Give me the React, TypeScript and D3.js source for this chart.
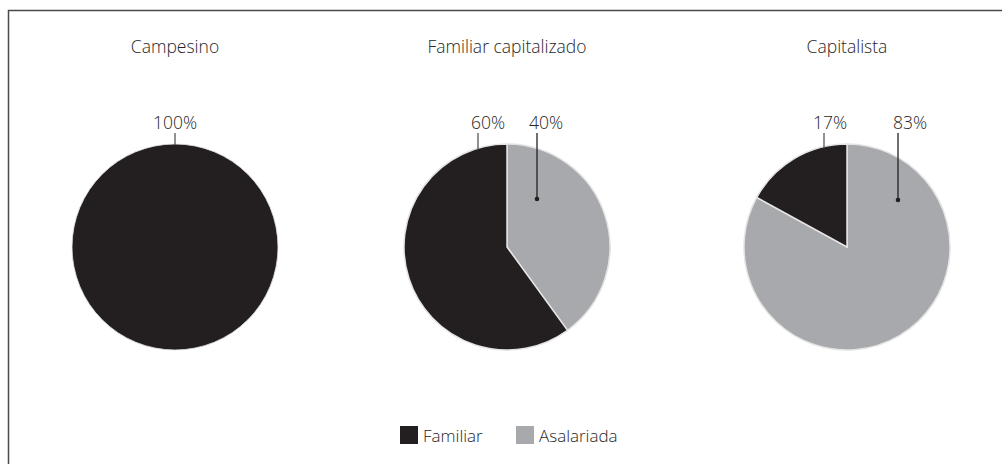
import React from "react";
import * as d3 from "d3";

const groups = ["Campesino", "Familiar capitalizado", "Capitalista"];
const categories = ["Asalariada", "Familiar"];
const asalariada = [0, 40, 83];
const familiar = [100, 60, 17];
const colors = ["#a7a9ac", "#231f20"];

// layout only: label/leader offsets relative to pie center (px)
const labelLayout = [
  [null, { lineDx: 0, textDx: 0 }],
  [{ dotDx: 30, dotDy: -48, textDx: 9 }, { lineDx: -29, textDx: 10 }],
  [{ dotDx: 51, dotDy: -47, textDx: 12 }, { lineDx: -23, textDx: 6 }],
];

const W = 1002;
const H = 464;
const R = 103;
const CY = 247;
const FONT = "'Open Sans', 'Noto Sans', sans-serif";
const TEXT = "#262626";

export default function App() {
  const x = d3.scaleOrdinal<string, number>().domain(groups).range([175, 507, 847]);
  const pie = d3
    .pie<number>()
    .value((d) => d)
    .sort(null);
  const arc = d3.arc<d3.PieArcDatum<number>>().innerRadius(0).outerRadius(R);

  return (
    <svg
      width={W}
      height={H}
      style={{ position: "absolute", left: 0, top: 0, background: "#fff" }}
      fontFamily={FONT}
    >
      <rect x={8.5} y={10.5} width={W} height={H} fill="none" stroke="#4a4a4a" strokeWidth={1.5} />
      {groups.map((g, i) => {
        const cx = x(g);
        const vals = [asalariada[i], familiar[i]];
        const arcs = pie(vals);
        return (
          <g key={g}>
            <text x={cx} y={53} textAnchor="middle" fontSize={17.5} fill={TEXT} fontWeight={300}>
              {g}
            </text>
            <g transform={`translate(${cx},${CY})`}>
              {arcs.map((a, k) =>
                a.value > 0 ? (
                  <path
                    key={k}
                    d={arc(a) || ""}
                    fill={colors[k]}
                    stroke="#e4e4e4"
                    strokeWidth={vals.filter((v) => v > 0).length > 1 ? 1.5 : 0.8}
                  />
                ) : null
              )}
            </g>
            {vals.map((v, k) => {
              const lay = labelLayout[i][k] as any;
              if (!lay || v <= 0) return null;
              if (k === 0) {
                const lx = cx + lay.dotDx;
                return (
                  <g key={k}>
                    <line x1={lx} x2={lx} y1={133} y2={CY + lay.dotDy} stroke="#231f20" strokeWidth={1.3} />
                    <circle cx={lx} cy={CY + lay.dotDy} r={2.3} fill="#231f20" />
                    <text x={lx + lay.textDx} y={129} textAnchor="middle" fontSize={17.5} fill={TEXT} fontWeight={300}>
                      {v}%
                    </text>
                  </g>
                );
              }
              const lx = cx + lay.lineDx;
              const yEdge = CY - Math.sqrt(R * R - lay.lineDx * lay.lineDx);
              return (
                <g key={k}>
                  <line x1={lx} x2={lx} y1={133} y2={yEdge + 1} stroke="#555" strokeWidth={1.3} />
                  <text x={lx + lay.textDx} y={129} textAnchor="middle" fontSize={17.5} fill={TEXT} fontWeight={300}>
                    {v}%
                  </text>
                </g>
              );
            })}
          </g>
        );
      })}
      {/* legend */}
      {[categories[1], categories[0]].map((c, j) => {
        const lx = [400, 516][j];
        const col = c === "Familiar" ? colors[1] : colors[0];
        return (
          <g key={c}>
            <rect x={lx} y={426} width={18} height={18} fill={col} />
            <text x={lx + 23} y={442} fontSize={17} fill={TEXT} fontWeight={300}>
              {c}
            </text>
          </g>
        );
      })}
    </svg>
  );
}
